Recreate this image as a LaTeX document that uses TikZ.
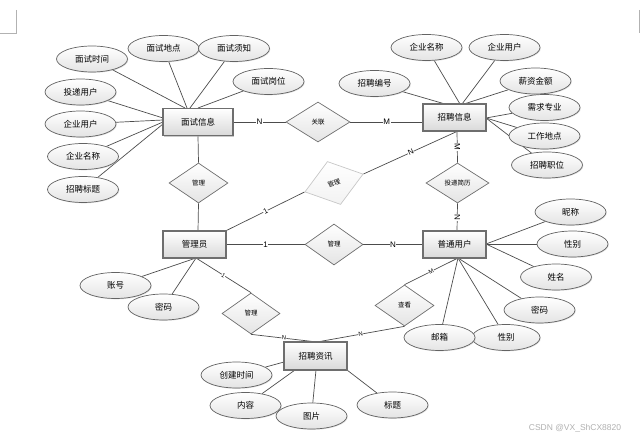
\documentclass[tikz,border=0pt]{standalone}
\usepackage{fontspec}
\newfontfamily\cjk{Noto Sans CJK SC}
\setmainfont{Liberation Sans}
\usetikzlibrary{shapes.geometric,shadows,backgrounds}
\definecolor{bord}{HTML}{6E6E6E}
\definecolor{entbot}{HTML}{D9D9D9}
\definecolor{attbot}{HTML}{E4E4E4}
\definecolor{wm}{HTML}{B0B0B0}
\begin{document}
\begin{tikzpicture}[x=1pt,y=-1pt,
  ent/.style={rectangle, draw=bord, line width=1.1pt, top color=white, bottom color=entbot,
    minimum width=63pt, minimum height=27pt, inner sep=0pt,
    font=\cjk\fontsize{8.5}{10}\selectfont,
    drop shadow={shadow xshift=1.2pt, shadow yshift=-1.2pt, fill=black!35, opacity=0.6}},
  attr/.style={ellipse, draw=bord!90!black, line width=0.7pt, top color=white, bottom color=attbot,
    minimum width=71pt, minimum height=26pt, inner sep=0pt,
    font=\cjk\fontsize{8.5}{10}\selectfont,
    drop shadow={shadow xshift=0.8pt, shadow yshift=-0.8pt, fill=black!25, opacity=0.5}},
  rel/.style={diamond, draw=bord, line width=0.7pt, top color=white, bottom color=attbot,
    minimum width=59pt, minimum height=40pt, inner sep=0pt,
    font=\cjk\fontsize{6.5}{7}\selectfont},
  conn/.style={draw=black!70, line width=0.7pt},
  lbl/.style={fill=white, inner sep=0.5pt, font=\fontsize{8}{9}\selectfont},
  slbl/.style={sloped, fill=white, inner sep=0.3pt, font=\fontsize{6}{7}\selectfont},
  corner/.style={draw=black!30, line width=0.8pt}
]
\useasboundingbox (0,0) rectangle (640,438);
% page corner marks
\coordinate (tl1) at (16,10);
\coordinate (tl2) at (16,33);
\coordinate (tl3) at (0,33);
\coordinate (tr1) at (639,10);
\coordinate (tr2) at (639,33);
\draw[corner] (tl1) -- (tl2) -- (tl3);
\draw[corner] (tr1) -- (tr2);

% entities
\node[ent, minimum width=70pt] (ms) at (198,122) {面试信息};
\node[ent] (zp) at (454.5,117.5) {招聘信息};
\node[ent] (gly) at (194.5,244.5) {管理员};
\node[ent] (pt) at (454.5,244.5) {普通用户};
\node[ent, minimum height=28pt] (zx) at (315.5,356) {招聘资讯};

% attributes
\node[attr] (a1) at (92,59) {面试时间};
\node[attr] (a2) at (163.5,48.5) {面试地点};
\node[attr] (a3) at (234,48.5) {面试须知};
\node[attr] (a4) at (268.5,81.5) {面试岗位};
\node[attr] (a5) at (80.5,92) {投递用户};
\node[attr] (a6) at (80.5,124) {企业用户};
\node[attr] (a7) at (83,156.5) {企业名称};
\node[attr] (a8) at (83,189.5) {招聘标题};
\node[attr] (b1) at (426.5,47.5) {企业名称};
\node[attr] (b2) at (504.5,47.5) {企业用户};
\node[attr] (b3) at (374.5,83.5) {招聘编号};
\node[attr] (b4) at (535.5,81) {薪资金额};
\node[attr] (b5) at (544.5,107.5) {需求专业};
\node[attr] (b6) at (544.5,136) {工作地点};
\node[attr] (b7) at (547,165) {招聘职位};
\node[attr] (c1) at (570.5,212) {昵称};
\node[attr] (c2) at (572.5,244) {性别};
\node[attr] (c3) at (556,277) {姓名};
\node[attr] (c4) at (539.5,310) {密码};
\node[attr, minimum width=68pt] (c6) at (506,337.5) {性别};
\node[attr] (c5) at (439.5,337.5) {邮箱};
\node[attr] (d1) at (115.5,285.5) {账号};
\node[attr] (d2) at (163.5,307) {密码};
\node[attr] (e1) at (236.5,375) {创建时间};
\node[attr] (e2) at (245.5,405.5) {内容};
\node[attr] (e3) at (311.5,416) {图片};
\node[attr] (e4) at (392.5,405) {标题};

% relationships
\node[rel] (r1) at (198.5,183) {管理};
\node[rel, minimum width=64pt] (r2) at (318,122) {关联};
\node[rel, minimum width=63pt] (r3) at (457.5,183) {投递简历};
\node[rel, minimum width=58pt, minimum height=41pt] (r4) at (334,244.5) {管理};
\node[rel, draw=black!22, bottom color=black!5, rotate=17, minimum width=61pt, minimum height=45pt] (r5) at (334,183) {管理};
\node[rel, minimum width=58pt, minimum height=41pt] (r6) at (251,313.5) {管理};
\node[rel, minimum height=41pt] (r7) at (404.5,305.5) {查看};

% watermark
\node[font=\fontsize{8.5}{10}\selectfont, text=wm, inner sep=0pt] (wmk) at (575,428) {CSDN @VX\_ShCX8820};

% junction points on entity borders
\coordinate (msT1) at (185,108);
\coordinate (msT2) at (187,108);
\coordinate (msT3) at (190,108);
\coordinate (msT4) at (198,108);
\coordinate (msL1) at (163,118);
\coordinate (msL2) at (163,120);
\coordinate (msL3) at (163,122);
\coordinate (msL4) at (163,124);
\coordinate (zpT1) at (460,104);
\coordinate (zpT2) at (462,104);
\coordinate (zpT3) at (445,104);
\coordinate (zpT4) at (464,104);
\coordinate (zpR) at (486,118);
\coordinate (zpL) at (423,122);
\coordinate (zpB) at (457,131);
\coordinate (zpB2) at (458,131);
\coordinate (ptR) at (486,244);
\coordinate (ptB) at (458,258);
\coordinate (ptT) at (457,231);
\coordinate (glyT) at (198,231);
\coordinate (glyB) at (196,258);
\coordinate (zxT) at (317,342);
\coordinate (zxE1) at (284,362);
\coordinate (zxE2) at (295,370);
\coordinate (zxE3) at (316,370);
\coordinate (zxE4) at (347,370);

\begin{scope}[on background layer]
\draw[conn] (a1) -- (msT1);
\draw[conn] (a2) -- (msT2);
\draw[conn] (a3) -- (msT3);
\draw[conn] (a4) -- (msT4);
\draw[conn] (a5) -- (msL1);
\draw[conn] (a6) -- (msL2);
\draw[conn] (a7) -- (msL3);
\draw[conn] (a8) -- (msL4);
\draw[conn] (b1) -- (zpT1);
\draw[conn] (b2) -- (zpT2);
\draw[conn] (b3) -- (zpT3);
\draw[conn] (b4) -- (zpT4);
\draw[conn] (b5) -- (zpR);
\draw[conn] (b6) -- (zpR);
\draw[conn] (b7) -- (zpR);
\draw[conn] (c1) -- (ptR);
\draw[conn] (c2) -- (ptR);
\draw[conn] (c3) -- (ptR);
\draw[conn] (c4) -- (ptB);
\draw[conn] (c5) -- (ptB);
\draw[conn] (c6) -- (ptB);
\draw[conn] (d1) -- (glyB);
\draw[conn] (d2) -- (glyB);
\draw[conn] (e1) -- (zxE1);
\draw[conn] (e2) -- (zxE2);
\draw[conn] (e3) -- (zxE3);
\draw[conn] (e4) -- (zxE4);
% relationship connectors
\draw[conn] (ms.east) -- node[lbl] {N} (r2.west);
\draw[conn] (r2.east) -- node[lbl] {M} (zpL);
\draw[conn] (ms.south) -- (r1.north);
\draw[conn] (r1.south) -- (glyT);
\draw[conn] (gly.north east) -- node[slbl, font=\fontsize{7.5}{8}\selectfont] {1} (r5.west);
\draw[conn] (r5.east) -- node[slbl, font=\fontsize{7.5}{8}\selectfont] {N} (zpB2);
\draw[conn] (zpB) -- node[lbl, rotate=-90] {M} (r3.north);
\draw[conn] (r3.south) -- node[lbl, rotate=-90] {N} (ptT);
\draw[conn] (gly.east) -- node[lbl] {1} (r4.west);
\draw[conn] (r4.east) -- node[lbl] {N} (pt.west);
\draw[conn] (glyB) -- node[slbl] {1} (r6.north);
\draw[conn] (r6.south) -- node[slbl] {N} (zxT);
\draw[conn] (r7.south) -- node[slbl] {N} (zxT);
\draw[conn] (ptB) -- node[slbl] {M} (r7.north);
\end{scope}
\end{tikzpicture}
\end{document}
